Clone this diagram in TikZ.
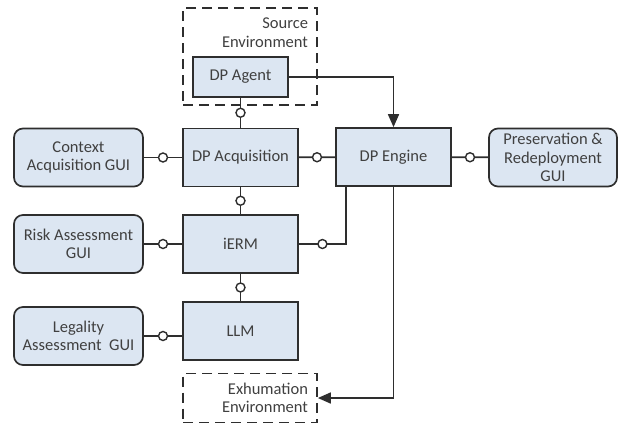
\documentclass[tikz,border=0pt]{standalone}
\usepackage{fontspec}
\setmainfont{Carlito}
\usetikzlibrary{arrows.meta}
\definecolor{boxfill}{HTML}{DCE6F2}
\definecolor{edgegray}{HTML}{2E2E2E}
\definecolor{txtgray}{HTML}{404040}

\begin{document}
\begin{tikzpicture}[
    x=1pt, y=-1pt,
    font=\fontsize{16.5}{18.5}\selectfont,
    line width=1.7pt, draw=edgegray,
    module/.style={rectangle, draw=edgegray, fill=boxfill, text=txtgray, minimum width=115pt, minimum height=58pt, inner sep=0pt},
    gui/.style={rectangle, draw=edgegray, fill=boxfill, text=txtgray, rounded corners=9pt, minimum width=129pt, minimum height=58pt, inner sep=0pt, align=center},
    env/.style={rectangle, draw=edgegray, dash pattern=on 10pt off 6pt, text=txtgray, align=right, inner sep=0pt},
    port/.style={circle, draw=edgegray, fill=white, line width=1.4pt, minimum size=9pt, inner sep=0pt}
]
    \useasboundingbox (0,0) rectangle (627,424);

    % Environments
    \node[env, minimum width=134pt, minimum height=97pt,
          label={[anchor=north east, align=right, inner sep=0pt, text=txtgray, xshift=-9pt, yshift=-10pt]north east:Source\\Environment}]
          (srcenv) at (250,56.5) {};
    \node[env, minimum width=134pt, minimum height=49pt, text width=116pt] (exhenv) at (250,398) {Exhumation\\Environment};

    % Core modules
    \node[module, minimum width=95pt, minimum height=40pt] (agent) at (240.5,77) {DP Agent};
    \node[module] (acq) at (240.5,157.5) {DP Acquisition};
    \node[module] (engine) at (393.5,157) {DP Engine};
    \node[module] (ierm) at (240.5,244) {iERM};
    \node[module] (llm) at (240.5,331) {LLM};

    % GUIs
    \node[gui] (ctxgui) at (78.5,157.5) {Context\\Acquisition GUI};
    \node[gui] (riskgui) at (78.5,244) {Risk Assessment\\GUI};
    \node[gui] (leggui) at (78.5,336) {Legality\\Assessment\ \ GUI};
    \node[gui, minimum width=128pt] (presgui) at (553,157.5) {Preservation \&\\Redeployment\\GUI};

    % Interfaces
    \draw (agent) -- node[port] {} (acq);
    \draw (acq) -- node[port] {} (ierm);
    \draw (ierm) -- node[port] {} (llm);
    \draw (ctxgui) -- node[port] {} (acq);
    \draw (riskgui) -- node[port] {} (ierm);
    \draw (leggui.east) -- node[port] {} (leggui.east -| llm.west);
    \draw (acq) -- node[port] {} (engine);
    \draw (engine) -- node[port] {} (presgui);
    \coordinate (ielbow) at (346,244);
    \draw (ierm.east) -- node[port] {} (ielbow) -- (ielbow |- engine.south);

    % Data flow
    \draw[-{Triangle[length=13pt,width=11pt]}] (agent.east) -| (engine.north);
    \draw[-{Triangle[length=13pt,width=11pt]}] (engine.south) |- (exhenv.east);
\end{tikzpicture}
\end{document}
